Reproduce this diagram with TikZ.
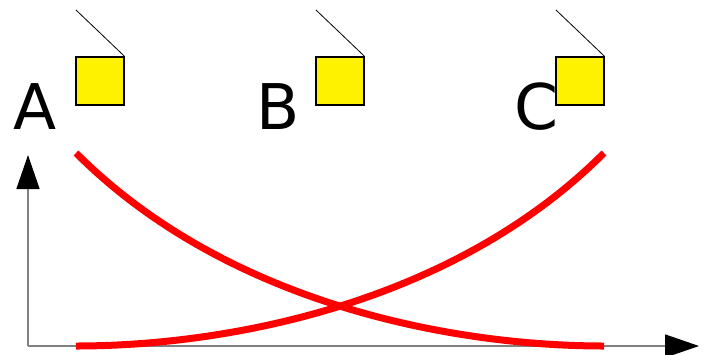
\documentclass[tikz,border=0pt]{standalone}
\usepackage{fontspec}
\setmainfont{DejaVu Sans}
\usetikzlibrary{arrows.meta}

\tikzset{
  box/.style={draw=black, line width=1.2pt, fill=yellow, minimum size=48pt, inner sep=0pt},
  letter/.style={anchor=base, inner sep=0pt, font=\fontsize{63}{63}\selectfont},
  axis/.style={draw=gray, line width=1.5pt, -{Triangle[length=34pt,width=23pt,color=black]}},
  curve/.style={draw=red, line width=7pt}
}

\begin{document}
\begin{tikzpicture}[x=1pt, y=-1pt]
\useasboundingbox (0,0) rectangle (707,354);
% letters
\node[letter] (A) at (35,129) {A};
\node[letter] (B) at (278,129) {B};
\node[letter] (C) at (536,129) {C};
% boxes with their hanging lines
\node[box] (boxA) at (100,81) {};
\node[box] (boxB) at (340,81) {};
\node[box] (boxC) at (580,81) {};
\coordinate (topA) at (76,10);
\coordinate (topB) at (316,10);
\coordinate (topC) at (556,10);
\draw[line width=0.8pt] (boxA.north east) -- (topA);
\draw[line width=0.8pt] (boxB.north east) -- (topB);
\draw[line width=0.8pt] (boxC.north east) -- (topC);
% axes
\coordinate (O) at (28,346);
\coordinate (yend) at (28,155);
\coordinate (xend) at (699,346);
\draw[axis] (O) -- (yend);
\draw[axis] (O) -- (xend);
% curves
\draw[curve] (76,153) .. controls (227,304) and (453,346) .. (604,346);
\draw[curve] (76,346) .. controls (227,346) and (453,304) .. (604,153);
\end{tikzpicture}
\end{document}
